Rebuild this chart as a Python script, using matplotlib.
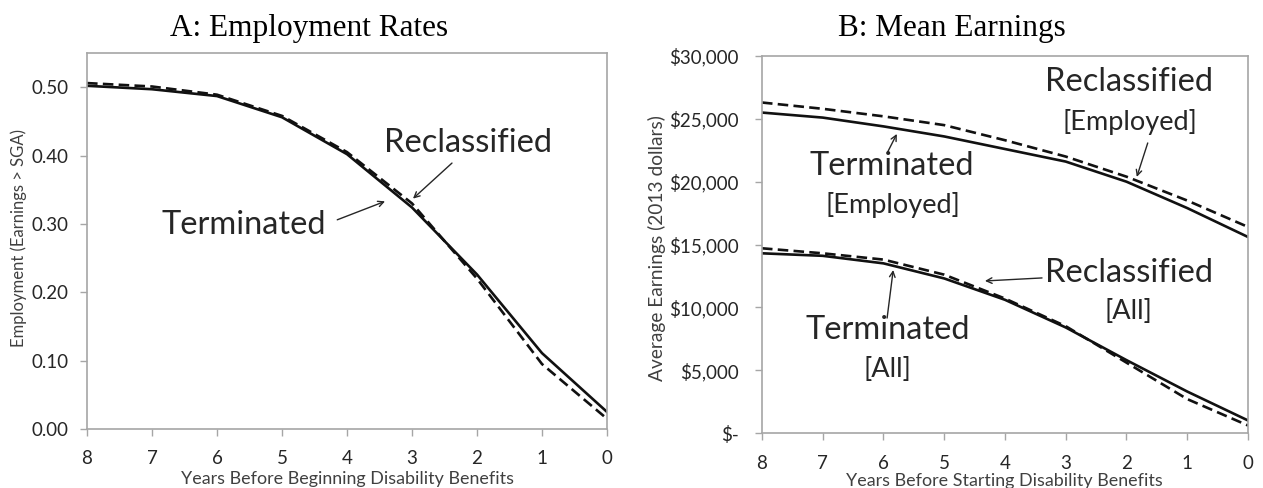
import numpy as np
import matplotlib
matplotlib.use("Agg")
import matplotlib.pyplot as plt
from matplotlib.ticker import FuncFormatter

# years before benefit start
years = [8, 7, 6, 5, 4, 3, 2, 1, 0]

# panel A: share with earnings above SGA
emp_terminated = [0.502, 0.497, 0.487, 0.456, 0.402, 0.324, 0.226, 0.111, 0.025]
emp_reclassified = [0.506, 0.501, 0.489, 0.458, 0.405, 0.330, 0.220, 0.095, 0.015]

# panel B: mean earnings, 2013 dollars
earn_term_employed = [25500, 25100, 24400, 23600, 22600, 21600, 20000, 17900, 15600]
earn_recl_employed = [26300, 25800, 25200, 24500, 23300, 22000, 20400, 18500, 16400]
earn_term_all = [14300, 14100, 13500, 12300, 10600, 8400, 5800, 3300, 1000]
earn_recl_all = [14700, 14300, 13800, 12600, 10700, 8500, 5600, 2700, 600]

SANS = ["Lato", "DejaVu Sans"]
SERIF = ["Liberation Serif", "DejaVu Serif"]
FRAME = "#a6a6a6"
TXT = "#262626"
LINE = "#111111"
BIG = 23.5
SMALL = 19.5

fig = plt.figure(figsize=(12.63, 4.88), dpi=100)
axA = fig.add_axes([0.0689, 0.1209, 0.4117, 0.7705])
axB = fig.add_axes([0.6033, 0.1127, 0.3848, 0.7725])


def style_axes(ax, xpad, ypad):
    for sp in ax.spines.values():
        sp.set_color(FRAME)
        sp.set_linewidth(1.2)
    ax.tick_params(direction="out", length=5, width=1, color=FRAME,
                   labelsize=13.5, labelcolor=TXT)
    ax.tick_params(axis="x", pad=xpad)
    ax.tick_params(axis="y", pad=ypad)
    for lab in ax.get_xticklabels() + ax.get_yticklabels():
        lab.set_family(SANS)
    ax.set_xlim(8, 0)
    ax.set_xticks(years)


def note(ax, text, pos, size=BIG):
    ax.text(pos[0], pos[1], text, ha="center", va="center",
            fontsize=size, family=SANS, color=TXT)


def arrow(ax, head, tail):
    ax.annotate("", xy=head, xytext=tail,
                arrowprops=dict(arrowstyle="->", color=TXT, lw=1.0,
                                shrinkA=0, shrinkB=0))


dash = (0, (4, 2))

# ---- A: Employment Rates
axA.plot(years, emp_terminated, color=LINE, lw=1.9)
axA.plot(years, emp_reclassified, color=LINE, lw=1.9, linestyle=dash)
axA.set_ylim(0, 0.55)
axA.set_yticks([0, 0.1, 0.2, 0.3, 0.4, 0.5])
axA.yaxis.set_major_formatter(FuncFormatter(lambda v, p: f"{v:.2f}"))
style_axes(axA, xpad=10, ypad=8.5)
axA.set_xlabel("Years Before Beginning Disability Benefits", fontsize=12.9,
               family=SANS, color="#404040")
axA.set_ylabel("Employment (Earnings > SGA)", fontsize=12, family=SANS,
               color="#404040")
axA.xaxis.set_label_coords(0.5, -0.112)
axA.yaxis.set_label_coords(-0.115, 0.508)

note(axA, "Reclassified", (2.14, 0.419))
arrow(axA, (2.985, 0.337), (2.385, 0.389))
note(axA, "Terminated", (5.585, 0.299))
arrow(axA, (3.415, 0.333), (4.15, 0.306))

# ---- B: Mean Earnings
axB.plot(years, earn_term_employed, color=LINE, lw=1.9)
axB.plot(years, earn_recl_employed, color=LINE, lw=1.9, linestyle=dash)
axB.plot(years, earn_term_all, color=LINE, lw=1.9)
axB.plot(years, earn_recl_all, color=LINE, lw=1.9, linestyle=dash)
axB.set_ylim(0, 30000)
axB.set_yticks(range(0, 30001, 5000))
axB.yaxis.set_major_formatter(
    FuncFormatter(lambda v, p: "$-" if v == 0 else f"${v:,.0f}"))
style_axes(axB, xpad=11, ypad=12)
axB.set_xlabel("Years Before Starting Disability Benefits", fontsize=12.9,
               family=SANS, color="#404040")
axB.set_ylabel("Average Earnings (2013 dollars)", fontsize=13.8, family=SANS,
               color="#404040")
axB.xaxis.set_label_coords(0.499, -0.106)
axB.yaxis.set_label_coords(-0.197, 0.49)

note(axB, "Reclassified", (1.96, 27940))
note(axB, "[Employed]", (1.94, 24760), size=SMALL)
arrow(axB, (1.83, 20380), (1.65, 23080))

note(axB, "Terminated", (5.86, 21250))
note(axB, "[Employed]", (5.84, 18150), size=SMALL)
arrow(axB, (5.78, 23800), (5.93, 22370))

note(axB, "Reclassified", (1.96, 12740))
note(axB, "[All]", (1.96, 9630), size=SMALL)
arrow(axB, (4.33, 12100), (3.39, 12340))

note(axB, "Terminated", (5.93, 8200))
note(axB, "[All]", (5.94, 5015), size=SMALL)
arrow(axB, (5.84, 12970), (5.94, 9150))

# panel titles
fig.text(0.245, 0.941, "A: Employment Rates", fontsize=22.5, family=SERIF,
         color="black", ha="center", va="center")
fig.text(0.7534, 0.941, "B: Mean Earnings", fontsize=22.5, family=SERIF,
         color="black", ha="center", va="center")

fig.savefig("out.png", dpi=100)
